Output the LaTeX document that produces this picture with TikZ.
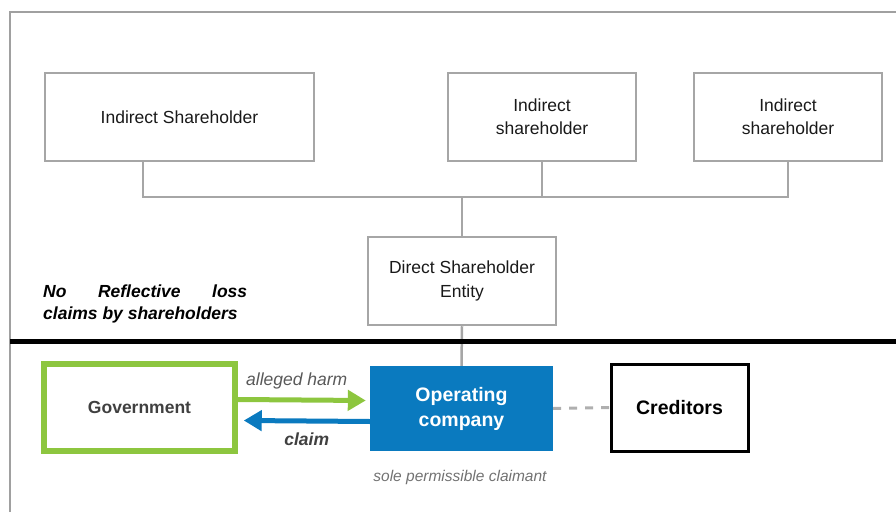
\documentclass[tikz,border=0pt]{standalone}
\usepackage{fontspec}
\setmainfont{Liberation Sans}
\usetikzlibrary{arrows.meta}
\definecolor{boxgray}{HTML}{A6A6A6}
\definecolor{framegray}{HTML}{A0A0A0}
\definecolor{harmgreen}{HTML}{8DC63F}
\definecolor{opblue}{HTML}{0A7ABF}
\definecolor{labelgray}{HTML}{595959}
\definecolor{darktext}{HTML}{404040}
\begin{document}
\begin{tikzpicture}[x=1pt,y=1pt,
	holder/.style={draw=boxgray, line width=2.5pt, minimum width=188pt, minimum height=88pt, align=center, font=\fontsize{17.5}{23}\selectfont, text=black!90},
	link/.style={draw=boxgray, line width=2.5pt}]
	\useasboundingbox (0,0) rectangle (896,512);
	\draw[framegray, line width=2pt] (10,0) -- (10,500) -- (896,500);
	\node[holder, minimum width=269pt] (is1) at (179.5,395) {\raisebox{-3pt}{Indirect Shareholder}};
	\node[holder] (is2) at (542,395) {Indirect\\shareholder};
	\node[holder] (is3) at (788,395) {Indirect\\shareholder};
	\node[holder] (direct) at (462,231) {Direct Shareholder\\\raisebox{-1pt}{Entity}};
	\coordinate (bus) at (462,315);
	\draw[link] ([xshift=-36.5pt]is1.south) -- ([xshift=-36.5pt]is1.south |- bus) -- (is3.south |- bus) -- (is3.south);
	\draw[link] (is2.south) -- (is2.south |- bus);
	\draw[link] (direct.north) -- (bus);
	\node[draw=harmgreen, line width=5.5pt, minimum width=191pt, minimum height=87pt, text=darktext, font=\fontsize{17.5}{21}\selectfont\bfseries] (gov) at (139.5,104.5) {Government};
	\node[fill=opblue, minimum width=183pt, minimum height=85pt, align=center, text=white, font=\fontsize{19.5}{25}\selectfont\bfseries] (op) at (461.5,103.5) {Operating\\company};
	\node[draw=black, line width=3pt, minimum width=137pt, minimum height=87pt, font=\fontsize{19.5}{23}\selectfont\bfseries] (cred) at (679.5,104.5) {\raisebox{-2pt}{Creditors}};
	\draw[link] (direct.south) -- (op.north);
	\draw[black, line width=5pt] (10,171) -- (896,171);
	\node[anchor=north west, inner sep=0pt, align=left, font=\fontsize{17.5}{22}\selectfont\bfseries\itshape] (note) at (43,227) {\makebox[204pt][s]{No Reflective loss}\\claims by shareholders};
	\draw[harmgreen, line width=5pt, -{Triangle[length=18pt, width=20pt]}] ([yshift=8pt]gov.east) -- ([yshift=8pt, xshift=-4pt]op.west) node[midway, above=5pt, xshift=-5pt, text=labelgray, font=\fontsize{17.5}{21}\selectfont\itshape] (harm) {alleged harm};
	\draw[opblue, line width=5pt, -{Triangle[length=18pt, width=20pt]}] ([yshift=-13pt]op.west) -- ([yshift=-13pt, xshift=6pt]gov.east) node[pos=0.5, below=6pt, text=darktext, font=\fontsize{17.5}{21}\selectfont\bfseries\itshape] (claim) {claim};
	\draw[boxgray!90, line width=3pt, dash pattern=on 8pt off 8pt] (op.east) -- (cred.west);
	\node[text=labelgray!85, font=\fontsize{15.5}{19}\selectfont\itshape] (sole) at (460,35) {sole permissible claimant};
\end{tikzpicture}
\end{document}
